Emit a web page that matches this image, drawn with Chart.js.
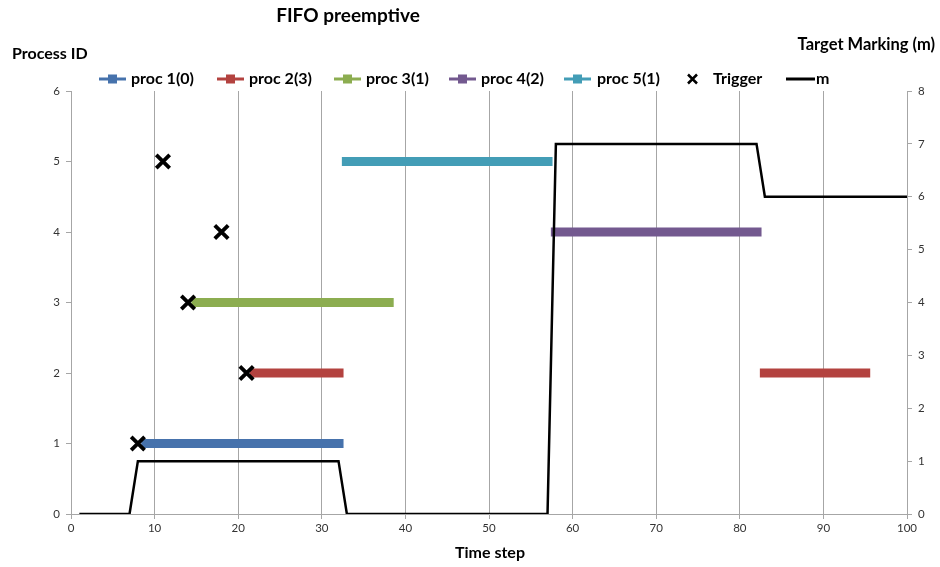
<!DOCTYPE html>
<html>
<head>
<meta charset="utf-8">
<title>FIFO preemptive</title>
<script src="https://cdn.jsdelivr.net/npm/chart.js@4/dist/chart.umd.min.js"></script>
<style>
  html, body { margin: 0; padding: 0; background: #ffffff; }
  #wrap { width: 940px; height: 567px; }
</style>
</head>
<body>
<div id="wrap"><canvas id="chart" width="940" height="567"></canvas></div>
<script>
// Processes and the runs they occupy on the time axis
const procLabels = ['proc 1(0)', 'proc 2(3)', 'proc 3(1)', 'proc 4(2)', 'proc 5(1)'];
const procIds = [1, 2, 3, 4, 5];
const procColors = ['#4672AC', '#B3423F', '#8CAD50', '#73598F', '#439DB6'];

// one entry per run: which process, when it starts, when it ends
const runProc  = [1,    2,    2,    3,    4,    5];
const runStart = [8.4,  21.4, 82.4, 14.4, 57.4, 32.4];
const runEnd   = [32.6, 32.6, 95.6, 38.6, 82.6, 57.6];

// trigger events (time step, process id)
const triggerTimes = [8, 21, 14, 18, 11];
const triggerProcs = [1, 2, 3, 4, 5];

// target marking m over time (right axis)
const markingTimes  = [1, 7, 8, 32, 33, 57, 58, 82, 83, 100];
const markingValues = [0, 0, 1, 1,  0,  0,  7,  7,  6,  6];

// axis tick ranges
const timeTicks = [0, 100, 10];
const pidTicks = [0, 6, 1];
const markTicks = [0, 8, 1];

const FONT = 'Lato, "Open Sans", sans-serif';
const AXIS_GREY = '#a6a6a6';

function runsFor(pid) {
  const pts = [];
  for (let i = 0; i < runProc.length; i++) {
    if (runProc[i] !== pid) continue;
    if (pts.length) pts.push({ x: (pts[pts.length - 1].x + runStart[i]) / 2, y: null });
    pts.push({ x: runStart[i], y: pid });
    pts.push({ x: runEnd[i], y: pid });
  }
  return pts;
}

const datasets = procIds.map((pid, i) => ({
  label: procLabels[i],
  data: runsFor(pid),
  yAxisID: 'y',
  borderColor: procColors[i],
  backgroundColor: procColors[i],
  borderWidth: 9,
  borderCapStyle: 'butt',
  pointRadius: 0,
  spanGaps: false,
  tension: 0,
  order: 3
}));

datasets.push({
  label: 'm',
  data: markingTimes.map((t, i) => ({ x: t, y: markingValues[i] })),
  yAxisID: 'y2',
  borderColor: '#000000',
  borderWidth: 2.5,
  pointRadius: 0,
  tension: 0,
  order: 2
});

datasets.push({
  label: 'Trigger',
  data: triggerTimes.map((t, i) => ({ x: t, y: triggerProcs[i] })),
  yAxisID: 'y',
  showLine: false,
  pointStyle: 'crossRot',
  pointRadius: 9.5,
  pointBorderWidth: 3.8,
  pointBorderColor: '#000000',
  borderColor: '#000000',
  order: 1
});

// titles and legend placed like the original sheet layout
const decorations = {
  id: 'decorations',
  afterDraw(chart) {
    const ctx = chart.ctx;
    ctx.save();
    ctx.fillStyle = '#000000';
    ctx.textBaseline = 'middle';

    ctx.font = 'bold 19px ' + FONT;
    ctx.textAlign = 'center';
    ctx.fillText('FIFO preemptive', 348, 16);

    ctx.font = 'bold 16px ' + FONT;
    ctx.textAlign = 'left';
    ctx.fillText('Process ID', 12, 54);
    ctx.textAlign = 'right';
    ctx.font = 'bold 16.5px ' + FONT;
    ctx.fillText('Target Marking (m)', 935, 45);
    ctx.textAlign = 'center';
    ctx.font = 'bold 16px ' + FONT;
    ctx.fillText('Time step', 490, 553);

    // legend
    const ly = 79;
    ctx.font = 'bold 16px ' + FONT;
    ctx.textAlign = 'left';
    const markerX = [99, 217, 334, 449, 564];
    const textX = [131, 249, 366, 481, 597];
    for (let i = 0; i < procLabels.length; i++) {
      ctx.strokeStyle = procColors[i];
      ctx.lineWidth = 3;
      ctx.beginPath();
      ctx.moveTo(markerX[i], ly);
      ctx.lineTo(markerX[i] + 27, ly);
      ctx.stroke();
      ctx.fillStyle = procColors[i];
      ctx.fillRect(markerX[i] + 9, ly - 4.5, 9, 9);
      ctx.fillStyle = '#000000';
      ctx.fillText(procLabels[i], textX[i], ly);
    }
    // trigger entry
    ctx.strokeStyle = '#000000';
    ctx.lineWidth = 2.5;
    ctx.beginPath();
    ctx.moveTo(688, ly - 4.5); ctx.lineTo(697, ly + 4.5);
    ctx.moveTo(697, ly - 4.5); ctx.lineTo(688, ly + 4.5);
    ctx.stroke();
    ctx.fillText('Trigger', 713, ly);
    // m entry
    ctx.lineWidth = 3;
    ctx.beginPath();
    ctx.moveTo(786, ly); ctx.lineTo(815, ly);
    ctx.stroke();
    ctx.fillText('m', 816, ly);
    ctx.restore();
  }
};

const tickFont = { family: FONT, size: 11.5 };

new Chart(document.getElementById('chart'), {
  type: 'line',
  data: { datasets },
  plugins: [decorations],
  options: {
    responsive: false,
    animation: false,
    layout: { padding: { top: 91, left: 0, right: 0, bottom: 0 } },
    plugins: { legend: { display: false }, title: { display: false }, tooltip: { enabled: false } },
    scales: {
      x: {
        type: 'linear',
        min: timeTicks[0], max: timeTicks[1],
        ticks: { stepSize: timeTicks[2], color: '#333333', font: tickFont, padding: 2, maxRotation: 0 },
        grid: { color: AXIS_GREY, lineWidth: 1, tickLength: 5, drawTicks: true },
        border: { color: AXIS_GREY, width: 1 },
        afterFit(s) { s.height = 53; }
      },
      y: {
        type: 'linear', position: 'left',
        min: pidTicks[0], max: pidTicks[1],
        ticks: { stepSize: pidTicks[2], color: '#333333', font: tickFont, padding: 6 },
        grid: { drawOnChartArea: false, color: AXIS_GREY, tickLength: 5 },
        border: { color: AXIS_GREY, width: 1 },
        afterFit(s) { s.width = 71; }
      },
      y2: {
        type: 'linear', position: 'right',
        min: markTicks[0], max: markTicks[1],
        ticks: { stepSize: markTicks[2], color: '#333333', font: tickFont, padding: 6 },
        grid: { drawOnChartArea: false, color: AXIS_GREY, tickLength: 5 },
        border: { color: AXIS_GREY, width: 1 },
        afterFit(s) { s.width = 33; }
      }
    }
  }
});
</script>
</body>
</html>
